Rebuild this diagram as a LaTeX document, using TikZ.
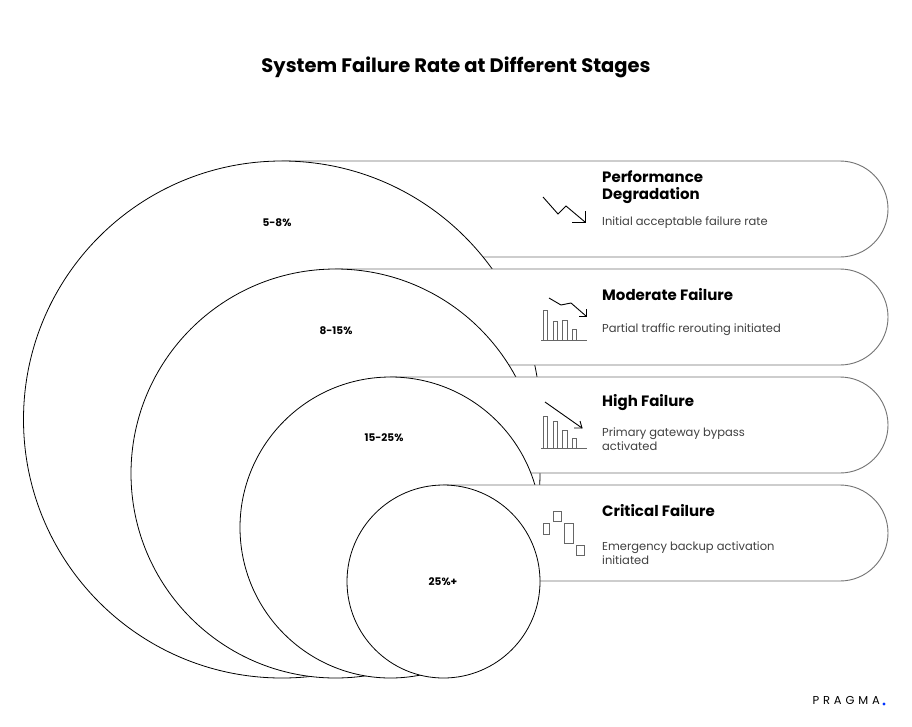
\documentclass[tikz,border=0pt]{standalone}
\usepackage{fontspec}
\setmainfont{Poppins}
\begin{document}
\begin{tikzpicture}[x=1pt,y=-1pt,
  pill/.style={draw=black!55,line width=0.9pt,fill=white},
  circ/.style={draw=black,line width=0.8pt,fill=white},
  ico/.style={draw=black!60,line width=0.9pt},
  ttl/.style={anchor=west,font=\bfseries\fontsize{15}{18}\selectfont,align=left,inner sep=0},
  dsc/.style={anchor=west,font=\fontsize{11.5}{14}\selectfont,text=black!75,align=left,inner sep=0},
  pct/.style={font=\bfseries\fontsize{10.5}{12}\selectfont}]
\useasboundingbox[fill=white] (0,0) rectangle (912,726);
\node (title) at (456,67) {\bfseries\fontsize{19.5}{22}\selectfont System Failure Rate at Different Stages};
% layers
\filldraw[pill] (282,161) -- (840,161) arc[start angle=-90,end angle=90,radius=48] -- (282,257) -- cycle;
\filldraw[circ] (282,419.5) circle[radius=258.5];
\filldraw[pill] (335.5,269) -- (840,269) arc[start angle=-90,end angle=90,radius=48] -- (335.5,365) -- cycle;
\filldraw[circ] (335.5,473.5) circle[radius=204.5];
\filldraw[pill] (390.5,377) -- (840,377) arc[start angle=-90,end angle=90,radius=48] -- (390.5,473) -- cycle;
\filldraw[circ] (390.5,527.5) circle[radius=150.5];
\filldraw[pill] (443.5,485) -- (840,485) arc[start angle=-90,end angle=90,radius=48] -- (443.5,581) -- cycle;
\filldraw[circ] (443.5,581.5) circle[radius=96.5];
\node[pct] (p1) at (277,223) {5-8\%};
\node[pct] (p2) at (336,331) {8-15\%};
\node[pct] (p3) at (384,438) {15-25\%};
\node[pct] (p4) at (443,582) {25\%+};
% texts
\node[ttl] (t1) at (602,187) {Performance\\[-1pt]Degradation};
\node[dsc] (d1) at (602,223) {Initial acceptable failure rate};
\node[ttl] (t2) at (602,295) {Moderate Failure};
\node[dsc] (d2) at (602,330) {Partial traffic rerouting initiated};
\node[ttl] (t3) at (602,403) {High Failure};
\node[dsc] (d3) at (602,439) {Primary gateway bypass\\activated};
\node[ttl] (t4) at (602,511) {Critical Failure};
\node[dsc] (d4) at (602,553) {Emergency backup activation\\initiated};
% icon 1
\draw[ico,draw=black] (543,197) -- (558,214) -- (566,206) -- (585,222);
\draw[ico,draw=black] (572,222) -- (585,222) -- (585,211);
% icon 2
\draw[ico] (541,340) -- (587,340);
\draw[ico] (543,340) |- (547,310) -- (547,340);
\draw[ico] (553,340) |- (557,321) -- (557,340);
\draw[ico] (562,340) |- (567,320) -- (567,340);
\draw[ico] (572,340) |- (576,329) -- (576,340);
\draw[ico,draw=black] (549,298) -- (561,305) -- (571,303) -- (586,316);
\draw[ico,draw=black] (579,316) -- (586,316) -- (586,309);
% icon 3
\draw[ico] (541,448) -- (587,448);
\draw[ico] (543,448) |- (547,416) -- (547,448);
\draw[ico] (553,448) |- (557,421) -- (557,448);
\draw[ico] (562,448) |- (567,430) -- (567,448);
\draw[ico] (572,448) |- (576,438) -- (576,448);
\draw[ico,draw=black] (545,402) -- (582,428);
\draw[ico,draw=black] (574,428) -- (582,428) -- (580,421);
% icon 4
\draw[ico] (543,523) rectangle (549,534);
\draw[ico] (553,511) rectangle (561,521);
\draw[ico] (564,523) rectangle (573,543);
\draw[ico] (576,545) rectangle (584,555);
% logo
\node[anchor=east,inner sep=0,font=\fontsize{11.5}{13}\selectfont] (logo) at (880,700) {P\,\,R\,\,A\,\,G\,\,M\,\,A};
\fill[blue!80!cyan] (884,704) circle[radius=1.7];
\end{tikzpicture}
\end{document}
